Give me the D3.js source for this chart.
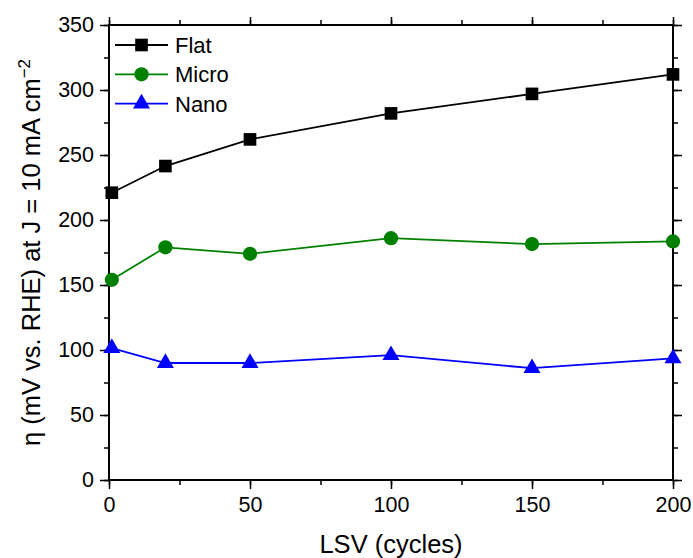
<!DOCTYPE html>
<html>
<head>
<meta charset="utf-8">
<script src="https://cdn.jsdelivr.net/npm/d3@7/dist/d3.min.js"></script>
<style>
  html, body { margin: 0; padding: 0; background: #fff; }
  svg text { font-family: Arial, "Liberation Sans", sans-serif; fill: #000; }
</style>
</head>
<body>
<svg id="chart" width="693" height="558"></svg>
<script>
// Overpotential at 10 mA cm^-2 versus number of LSV cycles
const cycles = [1, 20, 50, 100, 150, 200];
const flat  = [221, 241.5, 262, 282, 297, 312];
const micro = [154, 179, 174, 186, 181.5, 183.5];
const nano  = [101.5, 90, 90, 96, 86, 93.5];

const xTicks = [0, 50, 100, 150, 200];
const yTicks = [0, 50, 100, 150, 200, 250, 300, 350];

const series = [
  { name: "Flat",  values: flat,  color: "#000000", symbol: d3.symbolSquare,   size: 160 },
  { name: "Micro", values: micro, color: "#008000", symbol: d3.symbolCircle,   size: 160 },
  { name: "Nano",  values: nano,  color: "#0000ff", symbol: d3.symbolTriangle, size: 125 }
];

const svg = d3.select("#chart");
const L = 109, R = 673, T = 25, B = 480;

const x = d3.scaleLinear().domain([0, 200]).range([L, R]);
const y = d3.scaleLinear().domain([0, 350]).range([B, T]);

const minorX = d3.range(0, 201, 25);
const minorY = d3.range(0, 351, 25);

// Axes: labelled bottom/left, tick-only top/right, all ticks pointing outward
function styleAxis(g) {
  g.select(".domain").remove();
  g.selectAll(".tick line").attr("stroke", "#000").attr("stroke-width", 1.5);
}

// minor ticks
svg.append("g").attr("transform", `translate(0,${B})`)
  .call(d3.axisBottom(x).tickValues(minorX).tickSize(5).tickFormat(""))
  .call(styleAxis);
svg.append("g").attr("transform", `translate(0,${T})`)
  .call(d3.axisTop(x).tickValues(minorX).tickSize(5).tickFormat(""))
  .call(styleAxis);
svg.append("g").attr("transform", `translate(${L},0)`)
  .call(d3.axisLeft(y).tickValues(minorY).tickSize(5).tickFormat(""))
  .call(styleAxis);
svg.append("g").attr("transform", `translate(${R},0)`)
  .call(d3.axisRight(y).tickValues(minorY).tickSize(5).tickFormat(""))
  .call(styleAxis);

// major ticks
const xb = svg.append("g").attr("transform", `translate(0,${B})`)
  .call(d3.axisBottom(x).tickValues(xTicks).tickSize(9).tickPadding(8))
  .call(styleAxis);
xb.selectAll("text").attr("font-size", "21.5px")
  .attr("font-family", "Arial, 'Liberation Sans', sans-serif").attr("fill", "#000");

svg.append("g").attr("transform", `translate(0,${T})`)
  .call(d3.axisTop(x).tickValues(xTicks).tickSize(8).tickFormat(""))
  .call(styleAxis);

const yl = svg.append("g").attr("transform", `translate(${L},0)`)
  .call(d3.axisLeft(y).tickValues(yTicks).tickSize(9).tickPadding(6))
  .call(styleAxis);
yl.selectAll("text").attr("font-size", "21.5px")
  .attr("font-family", "Arial, 'Liberation Sans', sans-serif").attr("fill", "#000");

svg.append("g").attr("transform", `translate(${R},0)`)
  .call(d3.axisRight(y).tickValues(yTicks).tickSize(9).tickFormat(""))
  .call(styleAxis);

// frame
svg.append("rect")
  .attr("x", L).attr("y", T).attr("width", R - L).attr("height", B - T)
  .attr("fill", "none").attr("stroke", "#000").attr("stroke-width", 2);

// series lines and markers
const line = d3.line().x((d, i) => x(cycles[i])).y(d => y(d));

series.forEach(s => {
  svg.append("path")
    .datum(s.values)
    .attr("d", line)
    .attr("fill", "none")
    .attr("stroke", s.color)
    .attr("stroke-width", 1.8);

  const sym = d3.symbol().type(s.symbol).size(s.size);
  svg.append("g").selectAll("path")
    .data(s.values)
    .join("path")
    .attr("d", sym)
    .attr("transform", (d, i) => `translate(${x(cycles[i])},${y(d)})`)
    .attr("fill", s.color);
});

// legend
const legend = svg.append("g");
series.forEach((s, i) => {
  const cy = 45 + i * 29.3;
  legend.append("line")
    .attr("x1", 115).attr("x2", 168).attr("y1", cy).attr("y2", cy)
    .attr("stroke", s.color).attr("stroke-width", 1.8);
  legend.append("path")
    .attr("d", d3.symbol().type(s.symbol).size(s.size)())
    .attr("transform", `translate(141.5,${cy})`)
    .attr("fill", s.color);
  legend.append("text")
    .attr("x", 175).attr("y", cy + 8)
    .attr("font-size", "22px")
    .text(s.name);
});

// axis titles
svg.append("text")
  .attr("x", (L + R) / 2).attr("y", 553)
  .attr("text-anchor", "middle")
  .attr("font-size", "25.5px")
  .text("LSV (cycles)");

const yt = svg.append("text")
  .attr("transform", `translate(40,${(T + B) / 2}) rotate(-90)`)
  .attr("text-anchor", "middle")
  .attr("font-size", "25.5px");
yt.append("tspan").text("\u03b7 (mV vs. RHE) at J = 10 mA cm");
yt.append("tspan").attr("dy", -10).attr("font-size", "17px").text("\u22122");
</script>
</body>
</html>
